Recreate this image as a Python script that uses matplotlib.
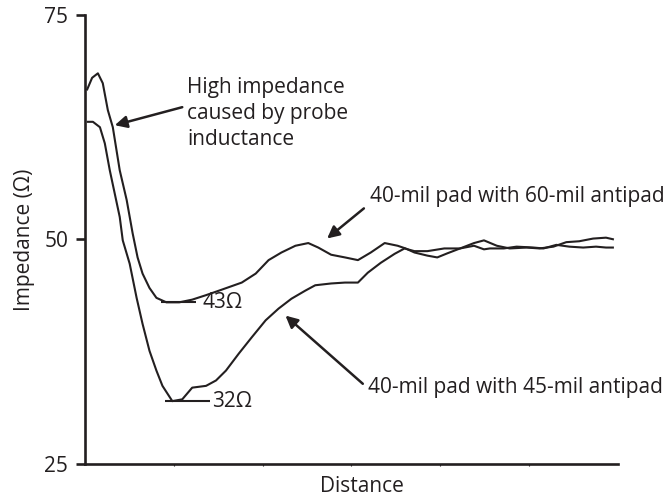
import matplotlib.pyplot as plt

# TDR trace: 40-mil pad with 60-mil antipad
dist_60 = [0.02, 0.08, 0.145, 0.20, 0.257, 0.313, 0.391, 0.469, 0.536, 0.592, 0.648,
           0.726, 0.804, 0.916, 1.061, 1.207, 1.363, 1.508, 1.765, 1.922, 2.067,
           2.212, 2.369, 2.514, 2.626, 2.771, 2.927, 3.073, 3.218, 3.374, 3.520,
           3.609, 3.709, 3.855, 3.966, 4.078, 4.223, 4.380, 4.492, 4.637, 4.782,
           4.972, 5.117, 5.274, 5.419, 5.564, 5.721, 5.866, 5.955]
imp_60 = [66.6, 68.0, 68.5, 67.4, 64.4, 62.5, 57.7, 54.4, 50.7, 48.0, 46.2,
          44.6, 43.5, 43.0, 43.0, 43.3, 43.8, 44.3, 45.2, 46.2, 47.7,
          48.55, 49.3, 49.6, 49.1, 48.3, 48.0, 47.7, 48.55, 49.6, 49.3,
          49.0, 48.55, 48.2, 48.0, 48.45, 49.0, 49.6, 49.9, 49.3, 49.0,
          49.1, 49.0, 49.2, 49.7, 49.8, 50.1, 50.2, 50.0]

# TDR trace: 40-mil pad with 45-mil antipad
dist_45 = [0.02, 0.089, 0.168, 0.223, 0.279, 0.335, 0.391, 0.425, 0.503, 0.581,
           0.648, 0.726, 0.804, 0.872, 0.983, 1.095, 1.207, 1.363, 1.475, 1.587,
           1.732, 1.877, 2.034, 2.179, 2.324, 2.480, 2.592, 2.771, 2.927, 3.073,
           3.184, 3.330, 3.486, 3.598, 3.709, 3.855, 4.045, 4.223, 4.380, 4.492,
           4.559, 4.715, 4.860, 5.050, 5.162, 5.307, 5.453, 5.609, 5.754, 5.866,
           5.955]
imp_45 = [63.1, 63.1, 62.5, 60.7, 57.7, 55.1, 52.5, 49.9, 47.3, 43.5,
          40.6, 37.6, 35.4, 33.7, 32.0, 32.2, 33.5, 33.7, 34.3, 35.4,
          37.3, 39.1, 41.0, 42.3, 43.4, 44.3, 44.9, 45.1, 45.2, 45.2,
          46.3, 47.4, 48.4, 49.0, 48.7, 48.7, 49.0, 49.0, 49.3, 48.9,
          49.0, 49.0, 49.2, 49.1, 49.0, 49.4, 49.2, 49.1, 49.2, 49.1,
          49.1]

min_60 = 43
min_45 = 32

ink = "#231f20"
fs = 15
plt.rcParams["font.family"] = ["Open Sans", "DejaVu Sans"]

fig = plt.figure(figsize=(6.72, 4.98), dpi=100)
ax = fig.add_axes([0.1265, 0.0683, 0.793, 0.9017])

line_kw = dict(color=ink, lw=1.5, solid_joinstyle="round", solid_capstyle="butt")
ax.plot(dist_60, imp_60, **line_kw)
ax.plot(dist_45, imp_45, **line_kw)

# minimum markers
ax.plot([0.86, 1.25], [min_60, min_60], **line_kw)
ax.plot([0.905, 1.408], [min_45, min_45], **line_kw)
ax.text(1.318, min_60, f"{min_60}Ω", fontsize=fs, color=ink, va="center", ha="left")
ax.text(1.43, min_45, f"{min_45}Ω", fontsize=fs, color=ink, va="center", ha="left")

arrow = dict(arrowstyle="-|>", mutation_scale=18, lw=1.8, color=ink,
             shrinkA=0, shrinkB=0)
ax.annotate("", xy=(0.335, 62.72), xytext=(1.095, 64.73), arrowprops=arrow)
ax.text(1.151, 64.0, "High impedance\ncaused by probe\ninductance",
        fontsize=fs, color=ink, va="center", ha="left", linespacing=1.3)

ax.annotate("", xy=(2.726, 50.11), xytext=(3.14, 53.46), arrowprops=arrow)
ax.text(3.207, 54.8, "40-mil pad with 60-mil antipad",
        fontsize=fs, color=ink, va="center", ha="left")

ax.annotate("", xy=(2.257, 41.52), xytext=(3.128, 33.93), arrowprops=arrow)
ax.text(3.184, 33.48, "40-mil pad with 45-mil antipad",
        fontsize=fs, color=ink, va="center", ha="left")

ax.set_xlim(0, 6)
ax.set_ylim(25, 75)
ax.set_yticks([25, 50, 75])
ax.set_xticks([1, 2, 3, 4, 5])
ax.set_xticklabels([])
ax.tick_params(axis="y", length=6.5, width=1.9, pad=5.5, labelsize=fs,
               colors=ink)
ax.tick_params(axis="x", length=1.5, width=0.8, colors=ink)

for side in ["top", "right"]:
    ax.spines[side].set_visible(False)
for side in ["left", "bottom"]:
    ax.spines[side].set_linewidth(1.9)
    ax.spines[side].set_color(ink)

ax.set_xlabel("Distance", fontsize=fs, color=ink)
ax.xaxis.set_label_coords(0.52, -0.027, transform=ax.transAxes)
ax.xaxis.label.set_va("top")
ax.set_ylabel("Impedance (Ω)", fontsize=fs, color=ink)
ax.yaxis.set_label_coords(-0.093, 0.5)

fig.savefig("out.png", dpi=100)
